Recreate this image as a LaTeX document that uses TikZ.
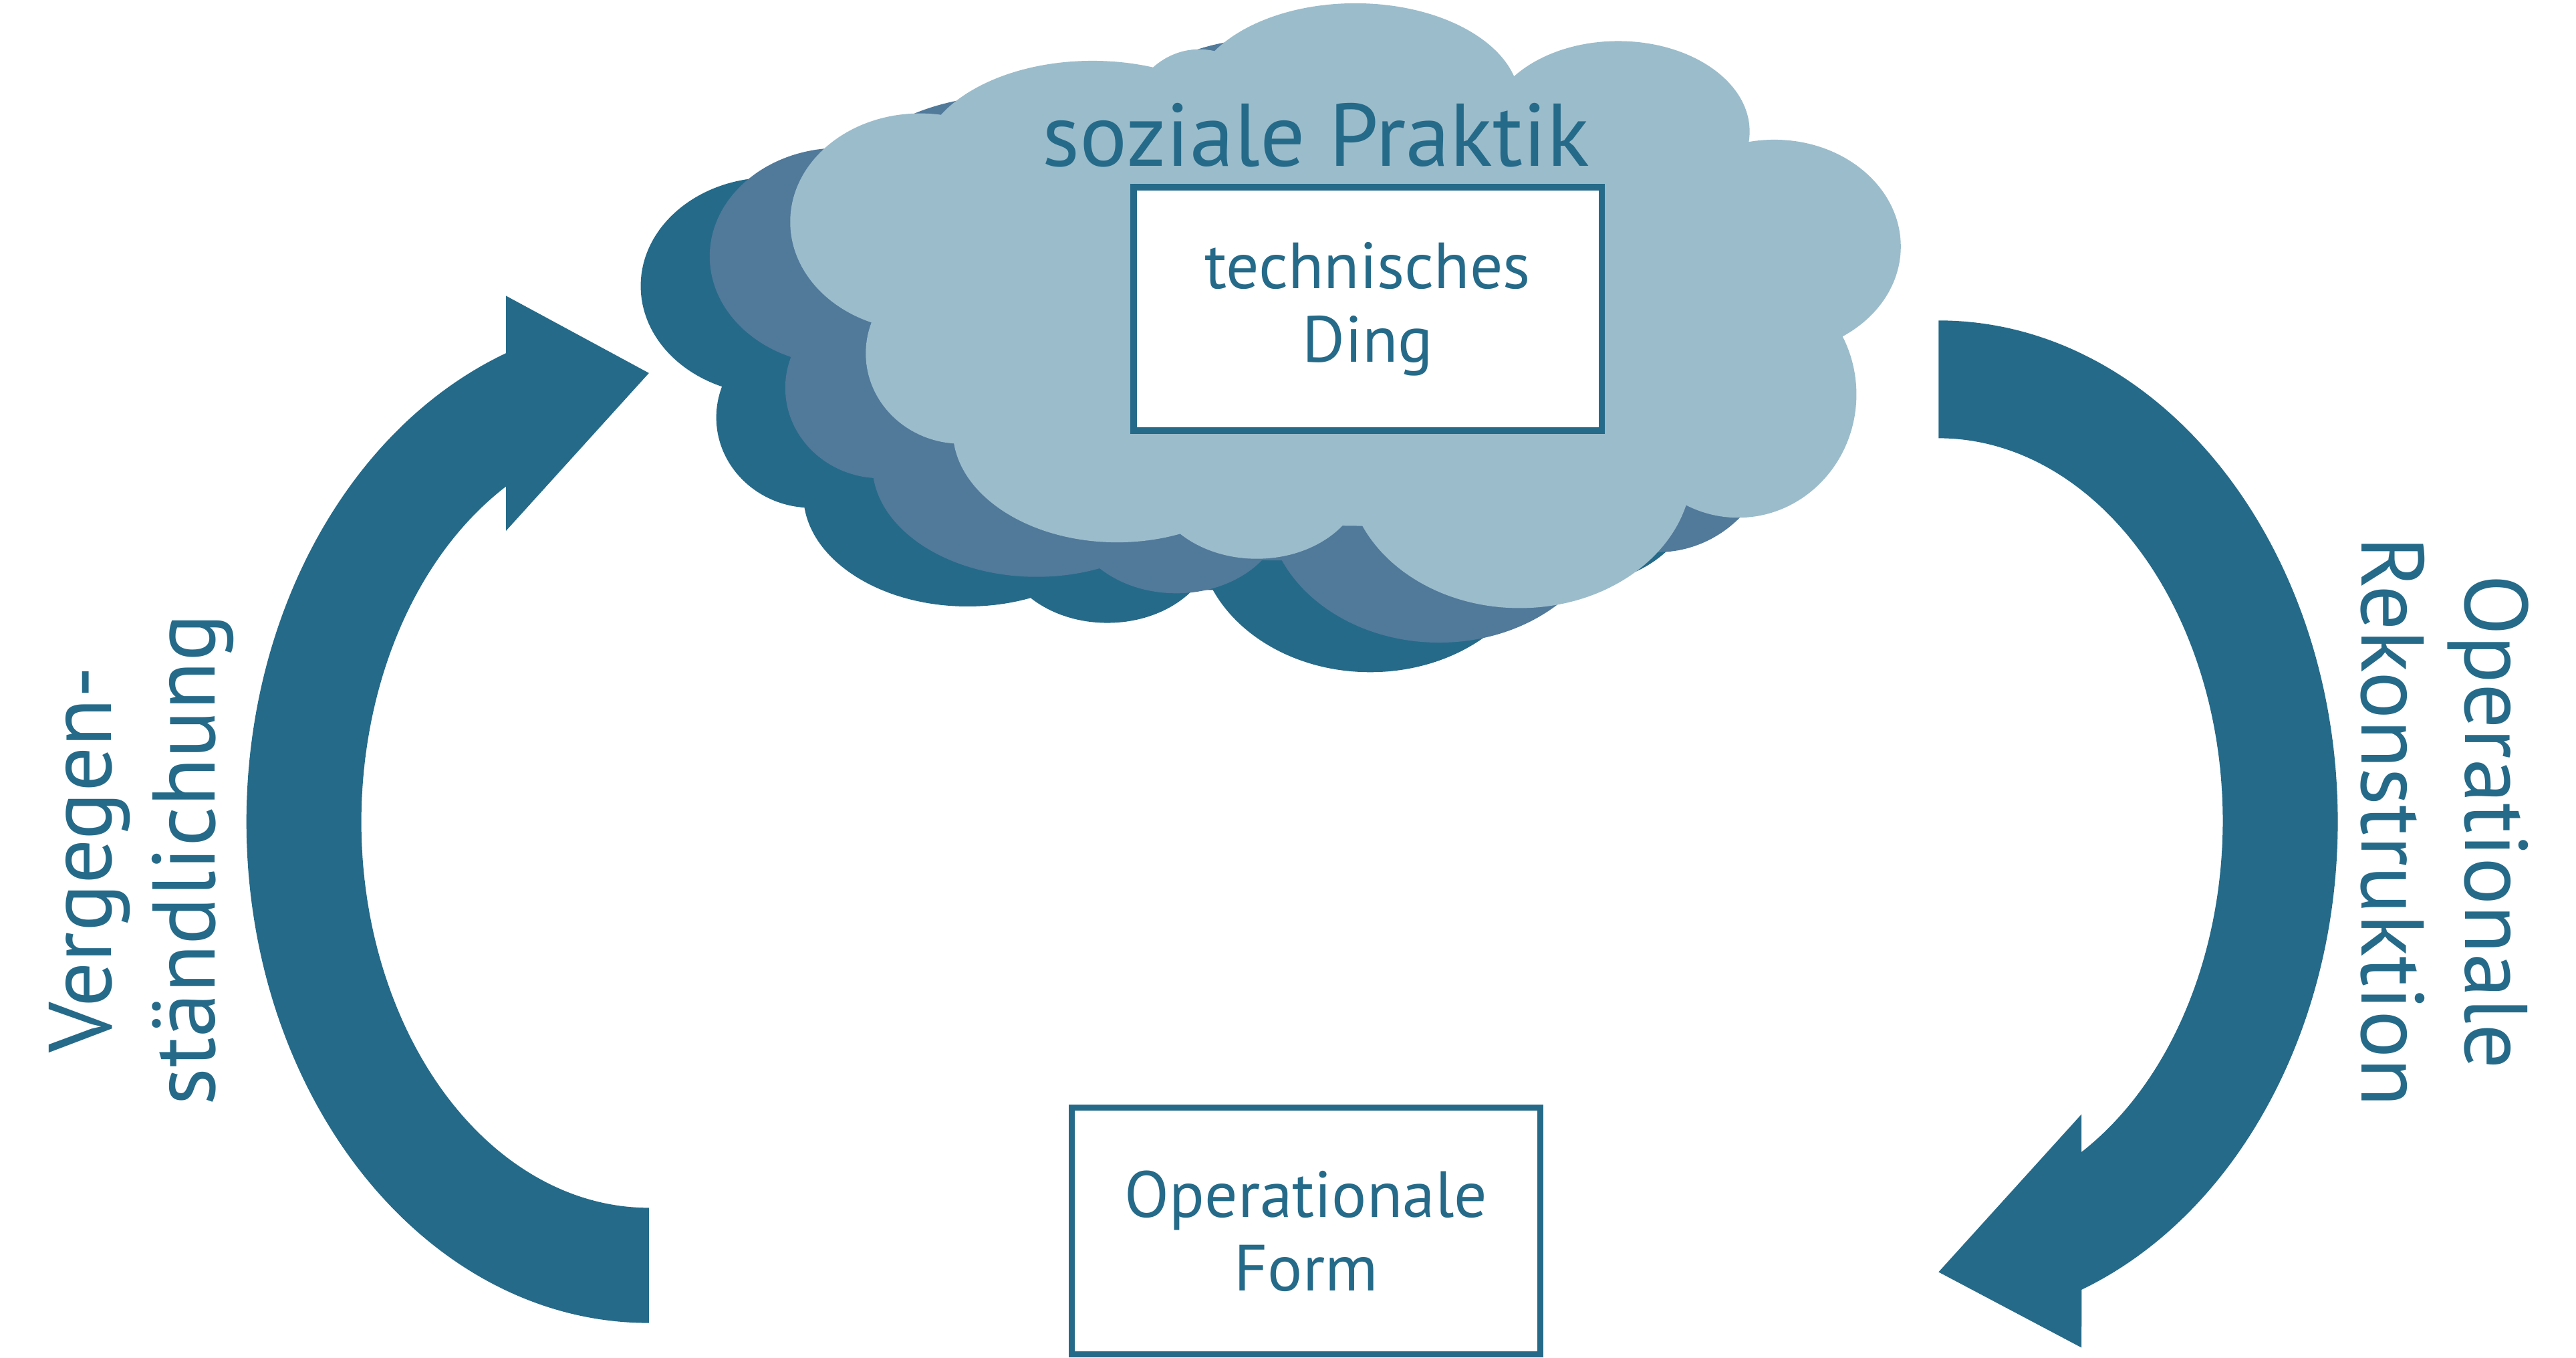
\documentclass[tikz,border=0pt]{standalone}
\usepackage{fontspec}
\setmainfont{PT Sans}
\usepackage{tikz}

\definecolor{petrol}{RGB}{37,106,137}
\definecolor{cloudmid}{RGB}{81,121,154}
\definecolor{cloudlight}{RGB}{155,188,203}

\newcommand{\cloudpuffs}{
  (830,636) ellipse [x radius=270, y radius=130]
  (560,691) ellipse [x radius=79, y radius=66]
  (585,611) ellipse [x radius=58, y radius=55]
  (680,564) ellipse [x radius=100, y radius=68]
  (765,536) ellipse [x radius=65, y radius=50]
  (925,541) ellipse [x radius=105, y radius=85]
  (1058,586) ellipse [x radius=72, y radius=75]
  (1080,676) ellipse [x radius=77, y radius=65]
  (985,746) ellipse [x radius=80, y radius=55]
  (825,764) ellipse [x radius=100, y radius=60]
  (730,746) ellipse [x radius=45, y radius=50]
  (665,726) ellipse [x radius=105, y radius=63]
}

\begin{document}
\begin{tikzpicture}[
		x=0.01cm, y=0.01cm,
		every node/.style={text=petrol},
		framebox/.style={rectangle, draw=petrol, fill=white, line width=1.1pt, minimum width=2.85cm, align=center, font={\fontsize{11.3}{12.7}\selectfont}},
		sidelabel/.style={align=center, font={\fontsize{15.4}{17.9}\selectfont}}
	]
  \useasboundingbox (0,0) rectangle (1568,826);
  \foreach \dx/\dy/\col in {-91/-39/petrol, -49/-21/cloudmid, 0/0/cloudlight}
    \fill [\col, shift={(\dx,\dy)}] \cloudpuffs;
  \fill [petrol] (395,21) arc [start angle=270, end angle=110.8, x radius=245, y radius=305]
    -- (308,646) -- (395,599) -- (308,503) -- (308,530)
    arc [start angle=119.8, end angle=270, x radius=175, y radius=235] -- cycle;
  \fill [petrol] (1180,631) arc [start angle=90, end angle=-69, x radius=243, y radius=305]
    -- (1267,6) -- (1180,52) -- (1267,148) -- (1267,125)
    arc [start angle=-59.8, end angle=90, x radius=173, y radius=233] -- cycle;
  \node (soz_prak) [anchor=base, font={\fontsize{15.4}{18}\selectfont}] at (801,725) {soziale Praktik};
  \node (tech_ding) [framebox, minimum height=1.48cm] at (832.5,638) {technisches\\Ding};
  \node (op_form) [framebox, minimum height=1.5cm] at (795,77) {Operationale\\Form};
  \node (verg) [sidelabel, rotate=90] at (86,303) {Vergegen-\\ständlichung};
  \node (op_rekon) [sidelabel, rotate=-90] at (1488,326) {Operationale\\Rekonstruktion};
\end{tikzpicture}
\end{document}
